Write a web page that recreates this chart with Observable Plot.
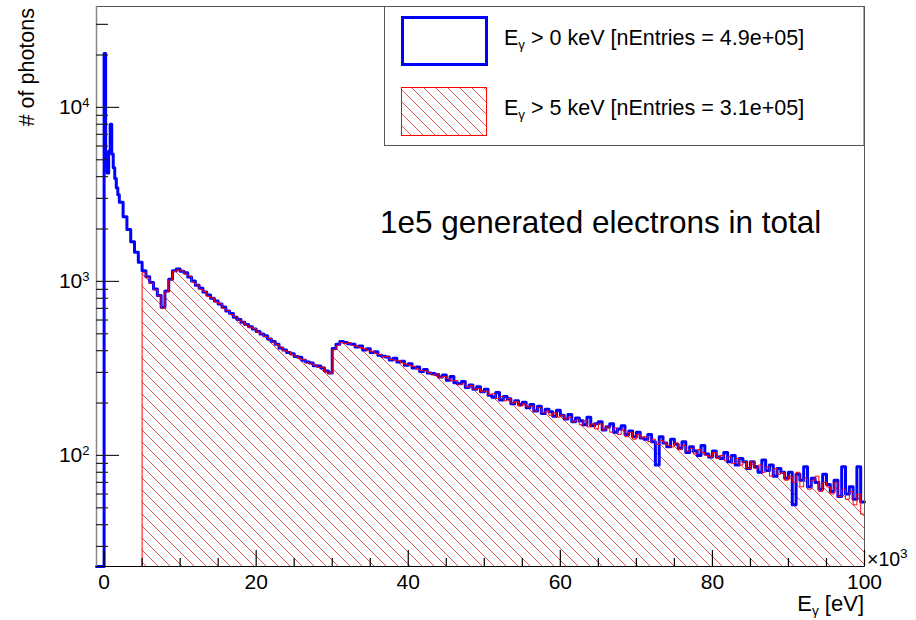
<!DOCTYPE html>
<html><head><meta charset="utf-8">
<script src="https://cdn.jsdelivr.net/npm/d3@7"></script>
<script src="https://cdn.jsdelivr.net/npm/@observablehq/plot@0.6"></script>
<style>body{margin:0;background:#fff}</style>
</head><body><div id="chart"></div>
<script>
const xMin = -1, xMax = 100;
const yMin = 23, yMax = 38000;

// E_gamma > 0 keV: low-energy bins (left edges in keV)
const blueLowEdges = [0, 0.2, 0.4, 0.6, 0.8, 1.0, 1.2, 1.4, 1.6, 1.8, 2.0, 2.5, 3.0, 3.5, 4.0, 4.5];
const blueLowCounts = [20400, 5000, 4200, 5600, 8000, 5400, 4500, 3900, 3450, 3150, 2850, 2350, 1990, 1690, 1470, 1290];

// 0.5 keV bins from 5 keV up to 100 keV
const binStart = 5, binWidth = 0.5;
const blueCounts = [
  1150, 1065, 985, 905, 830, 710, 880, 1030, 1150, 1180,
  1145, 1120, 1060, 1005, 950, 912, 868, 836, 800, 772,
  742, 712, 676, 655, 622, 604, 582, 566, 548, 532,
  516, 498, 488, 466, 452, 436, 414, 404, 390, 384,
  370, 366, 352, 344, 340, 328, 326, 318, 306, 298,
  412, 436, 452, 446, 438, 436, 420, 426, 404, 410,
  390, 394, 376, 372, 368, 354, 362, 344, 348, 330,
  336, 318, 322, 304, 312, 298, 296, 292, 282, 290,
  270, 284, 262, 258, 266, 246, 254, 240, 248, 232,
  240, 222, 216, 230, 208, 218, 212, 198, 206, 196,
  202, 188, 196, 180, 192, 174, 184, 178, 168, 182,
  170, 162, 172, 156, 164, 158, 150, 166, 148, 152,
  156, 140, 146, 152, 136, 142, 148, 132, 138, 128,
  136, 126, 124, 132, 120, 88, 128, 118, 112, 124,
  116, 110, 120, 104, 112, 106, 100, 114, 102, 98,
  106, 98, 96, 104, 92, 100, 88, 96, 92, 84,
  92, 86, 80, 94, 82, 88, 76, 84, 80, 74,
  80, 52, 78, 72, 86, 66, 74, 70, 64, 78,
  68, 62, 72, 58, 86, 60, 66, 56, 86, 54
];
const redCounts = [
  1120, 1050, 975, 895, 825, 700, 870, 1020, 1140, 1165,
  1150, 1100, 1070, 990, 955, 900, 875, 820, 805, 760,
  745, 700, 680, 645, 630, 600, 585, 560, 545, 535,
  510, 500, 482, 470, 448, 432, 418, 400, 394, 378,
  372, 360, 356, 340, 336, 330, 320, 322, 302, 296,
  405, 428, 446, 440, 444, 428, 424, 418, 410, 402,
  396, 386, 380, 368, 370, 356, 352, 350, 340, 334,
  330, 324, 314, 308, 306, 300, 290, 294, 280, 284,
  276, 268, 270, 256, 258, 248, 252, 240, 242, 232,
  234, 224, 226, 212, 218, 206, 212, 200, 204, 192,
  198, 190, 192, 180, 188, 176, 180, 170, 176, 166,
  170, 162, 166, 156, 160, 150, 158, 146, 152, 142,
  152, 140, 146, 136, 144, 132, 140, 128, 136, 124,
  132, 126, 128, 120, 124, 116, 122, 118, 114, 112,
  118, 108, 114, 106, 110, 102, 108, 104, 100, 98,
  104, 96, 100, 94, 98, 90, 96, 88, 92, 84,
  92, 84, 88, 80, 86, 76, 84, 78, 80, 72,
  76, 70, 80, 66, 74, 64, 72, 76, 62, 70,
  66, 60, 70, 58, 64, 56, 62, 52, 60, 46
];

const xMajorTicks = [0, 20, 40, 60, 80, 100];
const xMinorTicks = [5, 10, 15, 25, 30, 35, 45, 50, 55, 65, 70, 75, 85, 90, 95];
const yMajorTicks = [100, 1000, 10000];
const yMinorTicks = [30, 40, 50, 60, 70, 80, 90, 200, 300, 400, 500, 600, 700, 800, 900,
  2000, 3000, 4000, 5000, 6000, 7000, 8000, 9000, 20000, 30000];

const legendLabels = [
  {sym: "E", sub: "γ", rest: " > 0 keV [nEntries = 4.9e+05]"},
  {sym: "E", sub: "γ", rest: " > 5 keV [nEntries = 3.1e+05]"}
];
const annotation = "1e5 generated electrons in total";
const yTitle = "# of photons";

(function () {
const mainEdges = blueCounts.map((_, i) => binStart + i * binWidth);
const clampY = v => Math.max(v, yMin);
const blueSteps = [{x: xMin, y: yMin}]
  .concat(blueLowEdges.map((e, i) => ({x: e, y: clampY(blueLowCounts[i])})))
  .concat(mainEdges.map((e, i) => ({x: e, y: clampY(blueCounts[i])})))
  .concat([{x: xMax, y: clampY(blueCounts[blueCounts.length - 1])}]);
const redMain = mainEdges.map((e, i) => ({x: e, y: clampY(redCounts[i])}))
  .concat([{x: xMax, y: clampY(redCounts[redCounts.length - 1])}]);
const redSteps = [{x: xMin, y: yMin}].concat(redMain);

const FONT = "'Liberation Sans', Arial, Helvetica, sans-serif";
const W = 916, H = 620, ML = 96, MR = 52, MT = 6, MB = 54;
const innerW = W - ML - MR, innerH = H - MT - MB;

const plot = Plot.plot({
  width: W, height: H,
  marginLeft: ML, marginRight: MR, marginTop: MT, marginBottom: MB,
  style: {fontFamily: FONT, fontSize: "21px", color: "#000", background: "#fff"},
  x: {domain: [xMin, xMax]},
  y: {type: "log", domain: [yMin, yMax]},
  marks: [
    Plot.areaY(redMain, {x: "x", y1: yMin, y2: "y", curve: "step-after", fill: "url(#hatch)"}),
    Plot.line(blueSteps, {x: "x", y: "y", curve: "step-after", stroke: "#0000ff", strokeWidth: 3}),
    Plot.line(redSteps, {x: "x", y: "y", curve: "step-after", stroke: "#ff0000", strokeWidth: 1}),
    Plot.frame({stroke: "#555"}),
    Plot.ruleX([xMin], {stroke: "#888", strokeWidth: 1.5}),
    Plot.ruleY([yMin], {stroke: "#000"}),
    Plot.tickX(xMajorTicks, {x: d => d, insetTop: innerH - 16, stroke: "#000", strokeWidth: 1.2}),
    Plot.tickX(xMinorTicks, {x: d => d, insetTop: innerH - 8, stroke: "#000", strokeWidth: 1.2}),
    Plot.tickY(yMajorTicks, {y: d => d, insetRight: innerW - 23, stroke: "#222", strokeWidth: 1.2}),
    Plot.tickY(yMinorTicks, {y: d => d, insetRight: innerW - 12, stroke: "#222", strokeWidth: 1.2}),
    Plot.axisX(xMajorTicks, {tickSize: 0, tickPadding: 8, label: null, tickFormat: d => String(d)}),
    Plot.axisY(yMajorTicks, {tickSize: 0, tickPadding: 7, label: null, tickFormat: d => "10^" + Math.round(Math.log10(d))})
  ]
});

document.getElementById("chart").appendChild(plot);
const svg = d3.select(plot);

// hatch pattern
const s = 12;
const defs = svg.insert("defs", ":first-child");
const pat = defs.append("pattern").attr("id", "hatch").attr("patternUnits", "userSpaceOnUse")
  .attr("width", s).attr("height", s);
pat.append("path")
  .attr("d", `M0,0L${s},${s}M${-2},${s - 2}L2,${s + 2}M${s - 2},-2L${s + 2},2`)
  .attr("stroke", "#e03a3a").attr("stroke-width", 0.9).attr("fill", "none");

// superscript tick labels
svg.selectAll('g[aria-label="y-axis tick label"] text').each(function() {
  const t = d3.select(this);
  const parts = t.text().split("^");
  if (parts.length === 2) {
    t.text(parts[0]);
    t.append("tspan").attr("dy", "-0.55em").attr("font-size", "0.62em").text(parts[1]);
  }
});

const xs = plot.scale("x"), ys = plot.scale("y");
const pxRight = xs.apply(xMax), pxTop = ys.apply(yMax), pxBottom = ys.apply(yMin);

// legend
const lg = svg.append("g").attr("font-family", FONT).attr("text-anchor", "start");
lg.append("rect").attr("x", 384.5).attr("y", pxTop + 0.5).attr("width", pxRight - 384.5).attr("height", 139)
  .attr("fill", "#fff").attr("stroke", "#555");
lg.append("rect").attr("x", 402.5).attr("y", 17.5).attr("width", 84).attr("height", 47)
  .attr("fill", "none").attr("stroke", "#0000ff").attr("stroke-width", 3);
lg.append("rect").attr("x", 401.5).attr("y", 87.5).attr("width", 85).attr("height", 48)
  .attr("fill", "url(#hatch)").attr("stroke", "#ff0000").attr("stroke-width", 1);
legendLabels.forEach((L, i) => {
  const t = lg.append("text").attr("x", 504).attr("y", 45 + i * 70).attr("font-size", "21.5px").attr("fill", "#000");
  t.append("tspan").text(L.sym);
  t.append("tspan").attr("dy", "0.3em").attr("font-size", "0.62em").text(L.sub);
  t.append("tspan").attr("dy", "-0.186em").text(L.rest);
});

// annotation
svg.append("text").attr("x", 380).attr("y", 233).attr("text-anchor", "start").attr("font-family", FONT)
  .attr("font-size", "31.5px").attr("fill", "#000").text(annotation);

// x title
const xt = svg.append("text").attr("x", pxRight).attr("y", 611).attr("text-anchor", "end")
  .attr("font-family", FONT).attr("font-size", "22px").attr("fill", "#000");
xt.append("tspan").text("E");
xt.append("tspan").attr("dy", "0.3em").attr("font-size", "0.62em").text("γ");
xt.append("tspan").attr("dy", "-0.186em").text(" [eV]");

// x10^3 multiplier
const mt = svg.append("text").attr("x", pxRight + 3).attr("y", pxBottom).attr("text-anchor", "start")
  .attr("font-family", FONT).attr("font-size", "19.5px").attr("fill", "#000");
mt.append("tspan").text("×10");
mt.append("tspan").attr("dy", "-0.55em").attr("font-size", "0.7em").text("3");

// y title
svg.append("text").attr("transform", "rotate(-90)").attr("x", -pxTop - 2).attr("y", 34)
  .attr("text-anchor", "end").attr("font-family", FONT).attr("font-size", "21.5px").attr("fill", "#000")
  .text(yTitle);
})();
</script>
</body></html>
